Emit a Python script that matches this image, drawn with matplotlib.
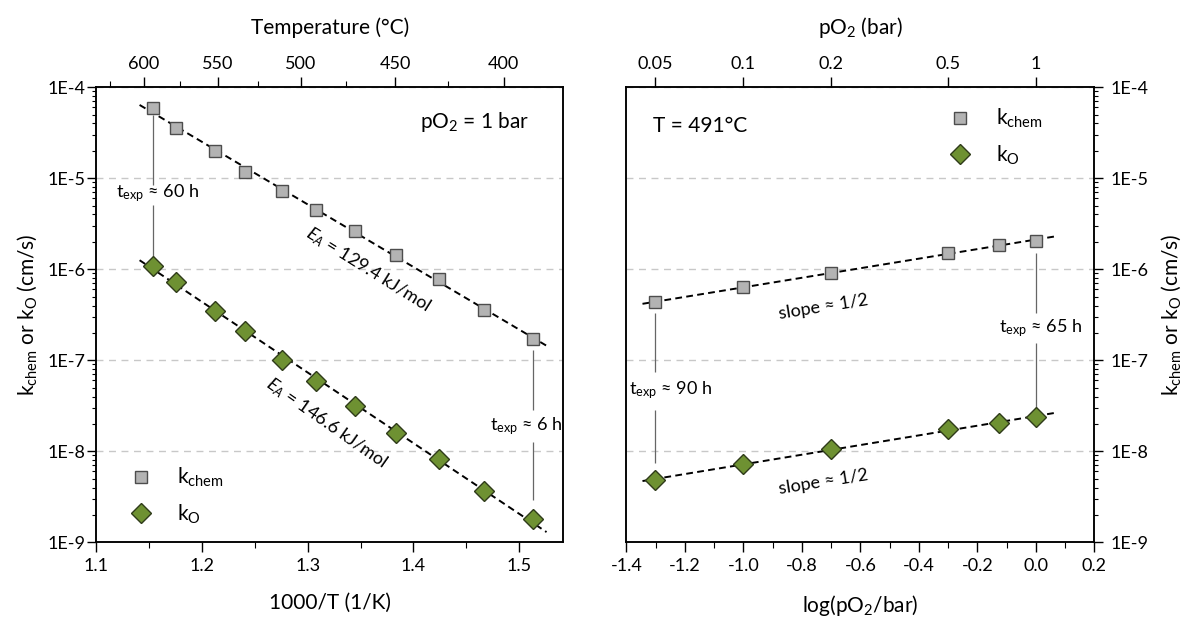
import numpy as np
import matplotlib.pyplot as plt
from matplotlib.ticker import FuncFormatter, FixedLocator, LogLocator, NullFormatter, MultipleLocator

plt.rcParams['font.family'] = ['Lato', 'DejaVu Sans']
plt.rcParams['mathtext.fontset'] = 'custom'
plt.rcParams['mathtext.rm'] = 'Lato'
plt.rcParams['mathtext.it'] = 'Lato:italic'
plt.rcParams['mathtext.default'] = 'regular'

# left panel: pO2 = 1 bar, varying temperature
inv_T = [1.154, 1.175, 1.212, 1.241, 1.276, 1.308, 1.345, 1.384, 1.424, 1.467, 1.513]
k_chem_T = [5.9e-5, 3.6e-5, 2.0e-5, 1.18e-5, 7.3e-6, 4.5e-6, 2.65e-6, 1.43e-6, 7.8e-7, 3.6e-7, 1.71e-7]
k_O_T = [1.1e-6, 7.3e-7, 3.5e-7, 2.1e-7, 1.0e-7, 5.9e-8, 3.15e-8, 1.6e-8, 8.2e-9, 3.7e-9, 1.8e-9]
temp_major = [600, 550, 500, 450, 400]
temp_minor = [625, 575, 525, 475, 425]

# right panel: T = 491 C, varying pO2
log_pO2 = [-1.301, -1.0, -0.699, -0.301, -0.125, 0.0]
k_chem_p = [4.35e-7, 6.35e-7, 9.2e-7, 1.5e-6, 1.85e-6, 2.06e-6]
k_O_p = [4.8e-9, 7.3e-9, 1.07e-8, 1.75e-8, 2.06e-8, 2.37e-8]
pO2_ticks = [0.05, 0.1, 0.2, 0.5, 1]

y_decades = [1e-9, 1e-8, 1e-7, 1e-6, 1e-5, 1e-4]

SQ = dict(marker='s', ms=8.5, mfc='#b3b3b3', mec='#4d4d4d', mew=1.0, ls='none', zorder=4)
DI = dict(marker='D', ms=10.4, mfc='#6e9132', mec='#2f3b1a', mew=1.0, ls='none', zorder=4)
TICK_FS = 13
LAB_FS = 15
ylab = 'k$_{chem}$ or k$_{O}$ (cm/s)'
ANN = '#666666'


def fit_line(ax, x, y, x0, x1):
    c = np.polyfit(x, np.log10(y), 1)
    xx = np.array([x0, x1])
    ax.plot(xx, 10 ** np.polyval(c, xx), color='k', lw=1.4, ls=(0, (3.5, 2.2)), zorder=3)


def setup_log_y(ax, side):
    ax.set_yscale('log')
    ax.set_ylim(1e-9, 1e-4)
    ax.yaxis.set_major_locator(FixedLocator(y_decades))
    minors = [m * d for d in y_decades[:-1] for m in range(2, 10)]
    ax.yaxis.set_minor_locator(FixedLocator(minors))
    ax.yaxis.set_major_formatter(FuncFormatter(lambda v, p: '1E%d' % round(np.log10(v))))
    ax.yaxis.set_minor_formatter(NullFormatter())
    ax.grid(axis='y', which='major', color='#c8c8c8', ls=(0, (5, 4)), lw=1.0)
    ax.set_axisbelow(True)
    for s in ax.spines.values():
        s.set_linewidth(1.1)
    if side == 'left':
        ax.tick_params(axis='y', which='both', left=True, right=False, direction='out',
                       labelsize=TICK_FS, pad=1.5)
    else:
        ax.yaxis.tick_right()
        ax.yaxis.set_label_position('right')
        ax.tick_params(axis='y', which='both', left=False, right=True, direction='out',
                       labelsize=TICK_FS, pad=5)
    ax.tick_params(axis='y', which='major', length=6.5, width=1.0)
    ax.tick_params(axis='y', which='minor', length=3, width=0.8)
    ax.tick_params(axis='x', which='both', top=False, bottom=True, direction='out',
                   labelsize=TICK_FS, pad=4)
    ax.tick_params(axis='x', which='major', length=7, width=1.0)
    ax.tick_params(axis='x', which='minor', length=4, width=0.8)


fig = plt.figure(figsize=(11.81, 6.19), dpi=100)

# ---------------- left panel ----------------
ax = fig.add_axes([0.0815, 0.1239, 0.3956, 0.7351])
setup_log_y(ax, 'left')
ax.set_xlim(1.1, 1.542)
ax.xaxis.set_major_locator(MultipleLocator(0.1))
ax.xaxis.set_minor_locator(MultipleLocator(0.05))
ax.xaxis.set_major_formatter(FuncFormatter(lambda v, p: '%.1f' % v))

fit_line(ax, inv_T, k_chem_T, 1.141, 1.526)
fit_line(ax, inv_T, k_O_T, 1.141, 1.526)
ax.plot(inv_T, k_chem_T, label='k$_{chem}$', **SQ)
ax.plot(inv_T, k_O_T, label='k$_{O}$', **DI)

ax.set_xlabel('1000/T (1/K)', fontsize=LAB_FS, labelpad=14)
ax.set_ylabel(ylab, fontsize=LAB_FS, labelpad=6)

ax.text(1.51, 10 ** -4.38, 'pO$_2$ = 1 bar', fontsize=15, ha='right', va='center')
ax.text(1.1577, 10 ** -5.165, 't$_{exp}$ ≈ 60 h', fontsize=13, ha='center', va='center')
ax.vlines(inv_T[0], 10 ** -5.897, 10 ** -5.293, color=ANN, lw=0.9)
ax.vlines(inv_T[0], 10 ** -5.073, 10 ** -4.304, color=ANN, lw=0.9)
ax.text(1.5067, 10 ** -7.729, 't$_{exp}$ ≈ 6 h', fontsize=13, ha='center', va='center')
ax.vlines(inv_T[-1], 10 ** -7.546, 10 ** -6.886, color=ANN, lw=0.9)
ax.vlines(inv_T[-1], 10 ** -8.535, 10 ** -7.894, color=ANN, lw=0.9)
ax.text(1.357, 10 ** -6.007, '$\\mathit{E_A}$ = 129.4 kJ/mol', fontsize=13,
        ha='center', va='center', rotation=-32)
ax.text(1.3177, 10 ** -7.692, '$\\mathit{E_A}$ = 146.6 kJ/mol', fontsize=13,
        ha='center', va='center', rotation=-35)

ax.legend(loc='center left', bbox_to_anchor=(0.0728, 0.102), frameon=False,
          fontsize=15, handlelength=1.0, handletextpad=1.25, borderpad=0,
          borderaxespad=0, labelspacing=0.65, numpoints=1)

axt = ax.twiny()
axt.set_xlim(ax.get_xlim())
axt.set_xticks([1000 / (t + 273.15) for t in temp_major])
axt.set_xticklabels([str(t) for t in temp_major])
axt.set_xticks([1000 / (t + 273.15) for t in temp_minor], minor=True)
axt.tick_params(axis='x', which='both', direction='out', labelsize=TICK_FS, pad=4)
axt.tick_params(axis='x', which='major', length=7, width=1.0)
axt.tick_params(axis='x', which='minor', length=4, width=0.8)
axt.set_xlabel('Temperature (°C)', fontsize=LAB_FS, labelpad=16)
for s in axt.spines.values():
    s.set_linewidth(1.1)

# ---------------- right panel ----------------
ax2 = fig.add_axes([0.5304, 0.1239, 0.3963, 0.7351])
setup_log_y(ax2, 'right')
ax2.set_xlim(-1.4, 0.2)
ax2.xaxis.set_major_locator(MultipleLocator(0.2))
ax2.xaxis.set_minor_locator(MultipleLocator(0.1))
ax2.xaxis.set_major_formatter(FuncFormatter(lambda v, p: '%.1f' % v))

fit_line(ax2, log_pO2, k_chem_p, -1.345, 0.062)
fit_line(ax2, log_pO2, k_O_p, -1.345, 0.068)
ax2.plot(log_pO2, k_chem_p, label='k$_{chem}$', **SQ)
ax2.plot(log_pO2, k_O_p, label='k$_{O}$', **DI)

ax2.set_xlabel('log(pO$_2$/bar)', fontsize=LAB_FS, labelpad=14)
ax2.set_ylabel(ylab, fontsize=LAB_FS, labelpad=8)

ax2.text(-1.3096, 10 ** -4.425, 'T = 491°C', fontsize=15, ha='left', va='center')
ax2.text(-0.7264, 10 ** -6.41, 'slope ≈ 1/2', fontsize=13, ha='center', va='center', rotation=9)
ax2.text(-0.7264, 10 ** -8.333, 'slope ≈ 1/2', fontsize=13, ha='center', va='center', rotation=9)
ax2.text(-1.248, 10 ** -7.326, 't$_{exp}$ ≈ 90 h', fontsize=13, ha='center', va='center')
ax2.vlines(log_pO2[0], 10 ** -7.125, 10 ** -6.484, color=ANN, lw=0.9)
ax2.vlines(log_pO2[0], 10 ** -8.132, 10 ** -7.546, color=ANN, lw=0.9)
ax2.text(0.0166, 10 ** -6.648, 't$_{exp}$ ≈ 65 h', fontsize=13, ha='center', va='center')
ax2.vlines(log_pO2[-1], 10 ** -6.484, 10 ** -5.824, color=ANN, lw=0.9)
ax2.vlines(log_pO2[-1], 10 ** -7.546, 10 ** -6.813, color=ANN, lw=0.9)

ax2.legend(loc='center left', bbox_to_anchor=(0.6896, 0.891), frameon=False,
           fontsize=15, handlelength=1.0, handletextpad=1.25, borderpad=0,
           borderaxespad=0, labelspacing=0.65, numpoints=1)

axt2 = ax2.twiny()
axt2.set_xlim(ax2.get_xlim())
axt2.set_xticks([np.log10(p) for p in pO2_ticks])
axt2.set_xticklabels([str(p) for p in pO2_ticks])
axt2.tick_params(axis='x', which='major', direction='out', labelsize=TICK_FS, pad=4,
                 length=7, width=1.0)
axt2.set_xlabel('pO$_2$ (bar)', fontsize=LAB_FS, labelpad=16)
for s in axt2.spines.values():
    s.set_linewidth(1.1)

fig.savefig('out.png', dpi=100)
